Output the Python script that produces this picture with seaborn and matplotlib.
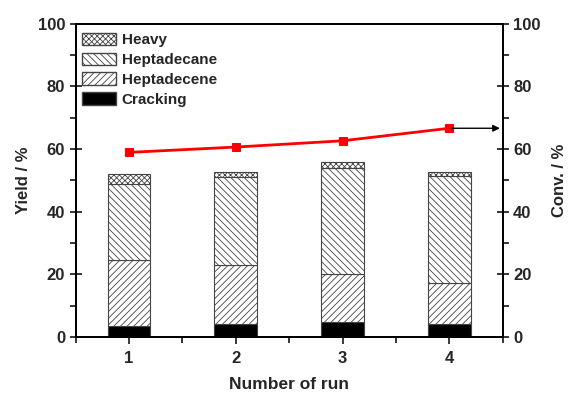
import matplotlib
matplotlib.use("Agg")
import matplotlib.pyplot as plt
import seaborn as sns
import numpy as np
import pandas as pd
from matplotlib.patches import Patch
from matplotlib.ticker import MultipleLocator

runs = [1, 2, 3, 4]
cracking = [3.6, 4.2, 4.7, 4.1]
heptadecene = [21.0, 18.8, 15.4, 13.0]
heptadecane = [24.2, 27.9, 33.9, 34.4]
heavy = [3.2, 1.6, 1.7, 1.2]
conversion = [58.9, 60.6, 62.6, 66.6]

sns.set_style("ticks")
plt.rcParams['font.family'] = ['Liberation Sans', 'DejaVu Sans']
plt.rcParams['font.weight'] = 'bold'
plt.rcParams['hatch.color'] = '#555555'
plt.rcParams['hatch.linewidth'] = 0.6

fig = plt.figure(figsize=(5.68, 3.93), dpi=100)
ax = fig.add_axes([0.133, 0.1425, 0.752, 0.7975])

df = pd.DataFrame({"run": runs, "cracking": cracking, "heptadecene": heptadecene,
                   "heptadecane": heptadecane, "heavy": heavy})
layers = [("cracking", "Cracking", "black", None),
          ("heptadecene", "Heptadecene", "white", "/////"),
          ("heptadecane", "Heptadecane", "white", "\\\\\\\\\\"),
          ("heavy", "Heavy", "white", "xxxxxx")]
bottom = np.zeros(len(runs))
handles = []
for col, label, fc, hatch in layers:
    sns.barplot(data=df, x="run", y=col, native_scale=True, width=0.4, ax=ax,
                bottom=bottom, color=fc, edgecolor="#444444", linewidth=0.8,
                hatch=hatch, saturation=1)
    bottom = bottom + df[col].values
    handles.append(Patch(facecolor=fc, edgecolor="#444444", hatch=hatch, label=label))

ax.set_xlim(0.5, 4.5)
ax.set_ylim(0, 100)
ax.set_xticks(runs)
ax.xaxis.set_minor_locator(MultipleLocator(0.5))
ax.yaxis.set_major_locator(MultipleLocator(20))
ax.yaxis.set_minor_locator(MultipleLocator(10))
ax.set_xlabel("Number of run", fontsize=12.5, fontweight='bold', labelpad=8)
ax.set_ylabel("Yield / %", fontsize=12, fontweight='bold', labelpad=5)
for s in ax.spines.values():
    s.set_linewidth(1.3)
    s.set_color('black')
ax.tick_params(axis='y', which='major', direction='inout', length=8, width=1.3, labelsize=12)
ax.tick_params(axis='y', which='minor', direction='out', length=4, width=1.3)
ax.tick_params(axis='x', which='major', direction='out', length=5, width=1.3, labelsize=12, pad=5)
ax.tick_params(axis='x', which='minor', direction='out', length=4, width=1.3)

leg = ax.legend(handles=handles[::-1], loc='upper left', bbox_to_anchor=(-0.01, 1.005),
                frameon=False, fontsize=11, handlelength=2.2, handleheight=0.85,
                labelspacing=0.36, handletextpad=0.4, borderaxespad=0.3)
for t in leg.get_texts():
    t.set_fontweight('bold')

ax2 = ax.twinx()
sns.lineplot(x=runs, y=conversion, ax=ax2, color='red', marker='s', markersize=6,
             markeredgecolor='red', linewidth=2)
ax2.set_ylim(0, 100)
ax2.yaxis.set_major_locator(MultipleLocator(20))
ax2.yaxis.set_minor_locator(MultipleLocator(10))
ax2.set_ylabel("Conv. / %", fontsize=12, fontweight='bold', labelpad=8)
ax2.tick_params(axis='y', which='major', direction='inout', length=8, width=1.3, labelsize=12)
ax2.tick_params(axis='y', which='minor', direction='out', length=4, width=1.3)
for s in ax2.spines.values():
    s.set_linewidth(1.3)
    s.set_color('black')
ax2.annotate("", xy=(1.0, conversion[-1]), xycoords=('axes fraction', 'data'),
             xytext=(runs[-1], conversion[-1]), textcoords='data',
             arrowprops=dict(arrowstyle='-|>', color='black', lw=1, mutation_scale=10))

fig.savefig("out.png", dpi=100)
